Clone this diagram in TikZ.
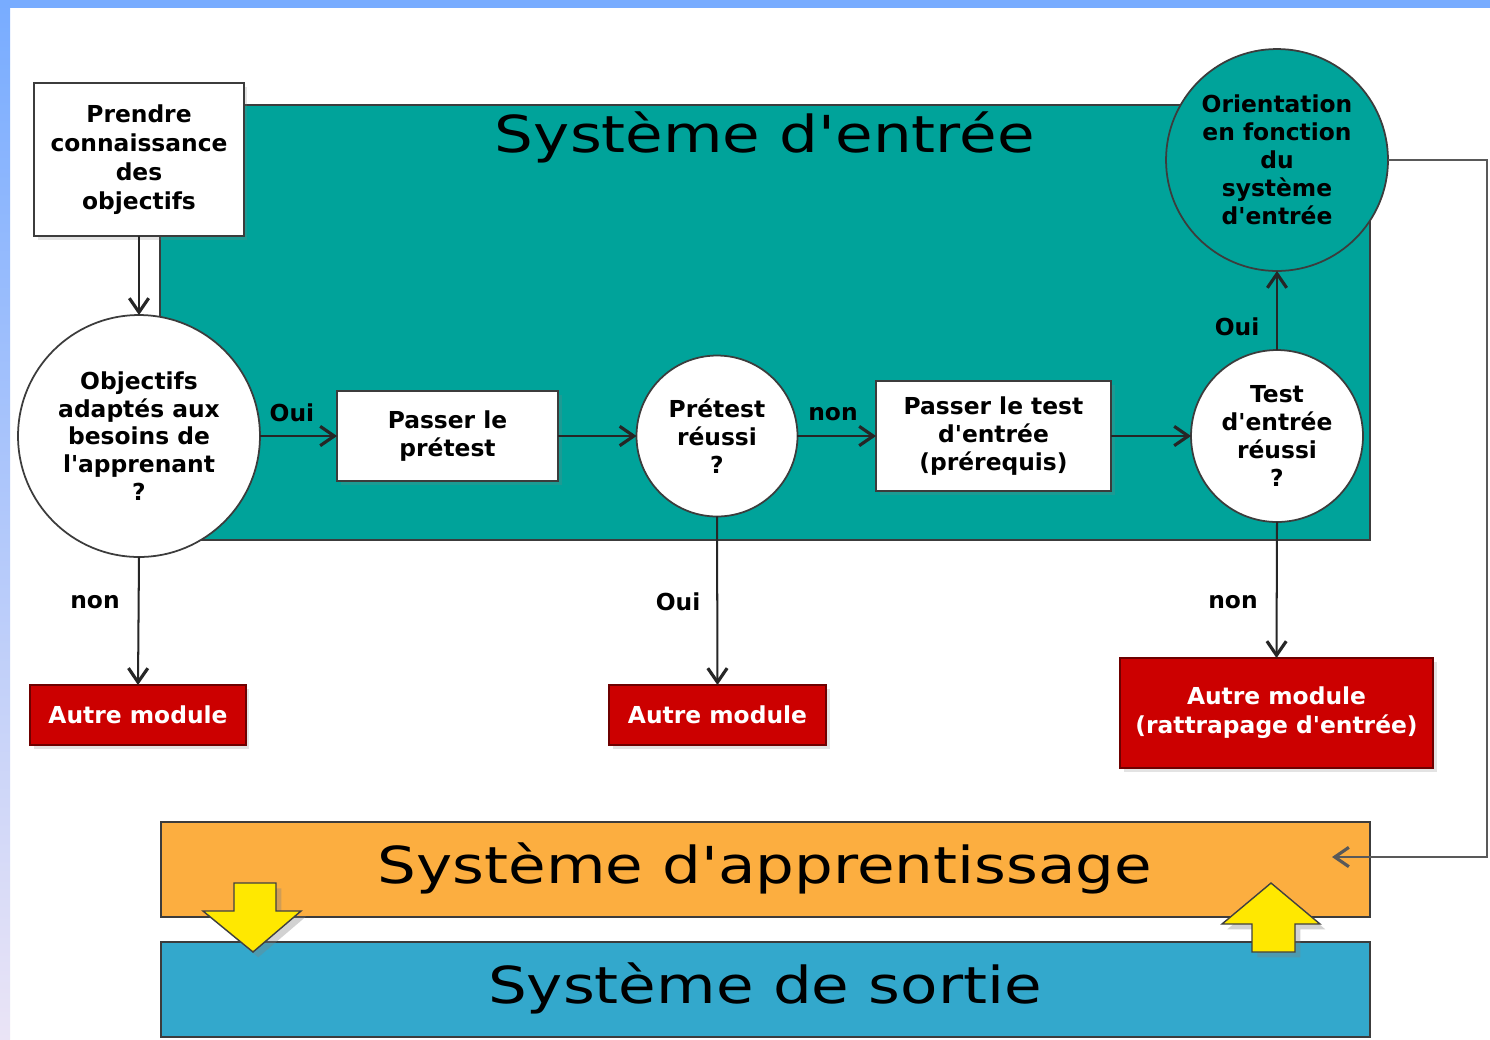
\documentclass[tikz,border=0pt]{standalone}
\usepackage{fontspec}
\setmainfont{DejaVu Sans}[Ligatures=TeXOff]
\newfontfamily\titlefont[FakeStretch=1.2]{DejaVu Sans}
\usetikzlibrary{arrows.meta,shadows}

\definecolor{entree}{RGB}{0,163,154}
\definecolor{apprent}{RGB}{252,174,64}
\definecolor{sortie}{RGB}{51,168,204}
\definecolor{modred}{RGB}{204,0,0}
\definecolor{modredline}{RGB}{110,0,0}
\definecolor{bigarrow}{RGB}{255,232,0}
\definecolor{bandtop}{RGB}{120,172,255}
\definecolor{bandbot}{RGB}{234,228,246}
\definecolor{edge}{RGB}{60,60,60}

\tikzset{
  lbl/.style={font=\fontsize{13.3}{15.8}\selectfont\bfseries, align=center},
  soft/.style={drop shadow={shadow xshift=2pt, shadow yshift=-2pt, opacity=0.22}},
  whitebox/.style={draw=edge, line width=1pt, fill=white, inner sep=0pt, outer sep=0pt, lbl, soft},
  redbox/.style={draw=modredline, line width=1pt, fill=modred, text=white, inner sep=0pt, outer sep=0pt, lbl, soft},
  question/.style={circle, draw=edge, line width=1pt, fill=white, inner sep=0pt, outer sep=0pt, lbl},
  conn/.style={draw=black!85, line width=1.15pt, -{Straight Barb[length=8pt,width=11pt,line width=1.8pt]}},
  feedback/.style={draw=black!65, line width=1pt, -{Straight Barb[length=8pt,width=11pt,line width=1.8pt]}},
  choice/.style={font=\fontsize{13.3}{15.8}\selectfont\bfseries, inner sep=0pt},
  band/.style={draw=edge, line width=0.8pt},
  systitle/.style={font=\titlefont\fontsize{29}{34}\selectfont, anchor=base, inner sep=0pt},
  yellowarrow/.style={draw=black!75, line width=0.8pt, fill=bigarrow, drop shadow={shadow xshift=3pt, shadow yshift=-3pt, opacity=0.35}}
}

\begin{document}
\begin{tikzpicture}[x=0.02cm, y=-0.02cm]
  \useasboundingbox (0,0) rectangle (1490,1039);

  % page frame
  \fill[white] (0,0) rectangle (1490,1039);
  \shade[top color=bandtop, bottom color=bandbot] (0,0) rectangle (10,1039);
  \fill[bandtop] (0,0) rectangle (1490,8);

  % entry system panel
  \draw[band, fill=entree] (160,105) rectangle (1370,540);
  \node[systitle] (tEntree) at (765,152) {Système d'entrée};

  % steps and decisions
  \node[whitebox, minimum width=4.2cm, minimum height=3.06cm, font=\fontsize{13.3}{16.4}\selectfont\bfseries]
       (obj) at (139,159.5) {\raisebox{-3pt}{\parbox{4cm}{\centering Prendre\\connaissance\\des\\objectifs}}};
  \node[question, minimum size=4.84cm] (adapt) at (139,436)
       {Objectifs\\adaptés aux\\besoins de\\l'apprenant\\?};
  \node[whitebox, minimum width=4.42cm, minimum height=1.8cm] (pretest) at (447.5,436)
       {Passer le\\prétest};
  \node[question, minimum size=3.22cm] (preok) at (717,436)
       {Prétest\\réussi\\?};
  \node[whitebox, minimum width=4.7cm, minimum height=2.2cm] (test) at (993.5,436)
       {Passer le test\\d'entrée\\(prérequis)};
  \node[question, minimum size=3.44cm] (testok) at (1277,436)
       {Test\\d'entrée\\réussi\\?};
  \node[question, fill=entree, minimum size=4.44cm, font=\fontsize{13.3}{16}\selectfont\bfseries]
       (orient) at (1277,160) {Orientation\\en fonction\\du\\système\\d'entrée};

  % alternative modules
  \node[redbox, minimum width=4.32cm, minimum height=1.2cm] (alt1) at (138,715) {Autre module};
  \node[redbox, minimum width=4.34cm, minimum height=1.2cm] (alt2) at (717.5,715) {Autre module};
  \node[redbox, minimum width=6.26cm, minimum height=2.2cm, font=\fontsize{13.3}{16.4}\selectfont\bfseries]
       (alt3) at (1276.5,713) {Autre module\\(rattrapage d'entrée)};

  % flow
  \draw[conn] (obj.south) -- (adapt.north);
  \draw[conn] (adapt.east) -- (pretest.west);
  \draw[conn] (pretest.east) -- (preok.west);
  \draw[conn] (preok.east) -- (test.west);
  \draw[conn] (test.east) -- (testok.west);
  \draw[conn] (testok.north) -- (orient.south);
  \draw[conn] (adapt.south) -- (alt1.north);
  \draw[conn] (preok.south) -- (alt2.north);
  \draw[conn] (testok.south) -- (alt3.north);

  \node[choice] (lOui1) at (292,413) {Oui};
  \node[choice] (lNon1) at (833,414) {non};
  \node[choice] (lOui2) at (1237,327) {Oui};
  \node[choice] (lNon2) at (95,602) {non};
  \node[choice] (lOui3) at (678,602) {Oui};
  \node[choice] (lNon3) at (1233,602) {non};

  % learning and exit systems
  \draw[band, fill=apprent] (161,822) rectangle (1370,917);
  \node[systitle] (tApp) at (765,883) {Système d'apprentissage};
  \draw[band, fill=sortie] (161,942) rectangle (1370,1037);
  \node[systitle] (tSortie) at (765,1003) {Système de sortie};

  % orientation feeds back into learning
  \coordinate (fbA) at (1487,160);
  \coordinate (fbB) at (1487,857);
  \coordinate (fbEnd) at (1332,857);
  \draw[feedback] (orient.east) -- (fbA) -- (fbB) -- (fbEnd);

  % transitions between learning and exit
  \draw[yellowarrow] (234,883) -- (276,883) -- (276,911) -- (301,911) -- (253,952)
                     -- (203,911) -- (234,911) -- cycle;
  \draw[yellowarrow] (1271,883) -- (1320,924) -- (1295,924) -- (1295,952) -- (1252,952)
                     -- (1252,924) -- (1222,924) -- cycle;
\end{tikzpicture}
\end{document}
